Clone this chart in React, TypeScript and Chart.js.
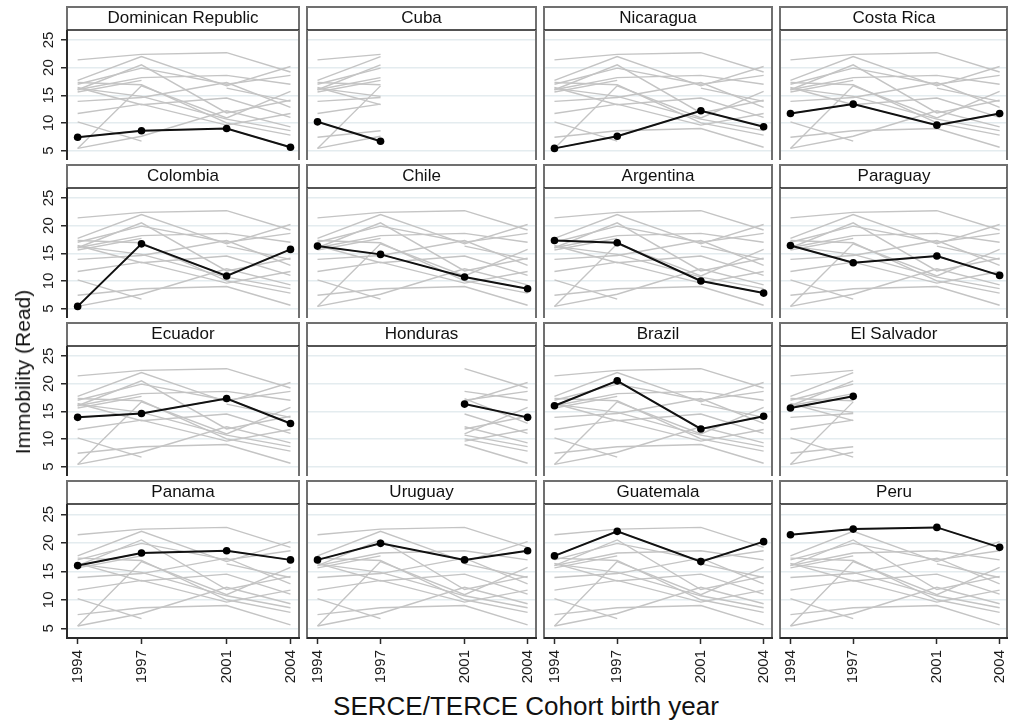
import React, { useEffect, useRef } from "react";
import { Chart, registerables } from "chart.js";

Chart.register(...registerables);

// ---------- data ----------
const YEARS = [1994, 1997, 2001, 2004];
const X_TICKS = [1994, 1997, 2001, 2004];
const Y_TICKS = [5, 10, 15, 20, 25];

const dominicanRepublic = [7.4, 8.6, 9.0, 5.6];
const cuba = [10.2, 6.7, null, null];
const nicaragua = [5.4, 7.6, 12.2, 9.3];
const costaRica = [11.7, 13.4, 9.6, 11.7];
const colombia = [5.4, 16.7, 10.9, 15.7];
const chile = [16.3, 14.8, 10.7, 8.6];
const argentina = [17.3, 16.9, 10.0, 7.8];
const paraguay = [16.4, 13.3, 14.5, 11.0];
const ecuador = [13.9, 14.6, 17.3, 12.8];
const honduras = [null, null, 16.3, 13.9];
const brazil = [16.0, 20.5, 11.8, 14.1];
const elSalvador = [15.6, 17.7, null, null];
const panama = [16.0, 18.2, 18.6, 17.0];
const uruguay = [17.0, 19.9, 17.0, 18.6];
const guatemala = [17.7, 22.0, 16.7, 20.2];
const peru = [21.4, 22.4, 22.7, 19.2];

const COUNTRY_NAMES = [
  "Dominican Republic", "Cuba", "Nicaragua", "Costa Rica",
  "Colombia", "Chile", "Argentina", "Paraguay",
  "Ecuador", "Honduras", "Brazil", "El Salvador",
  "Panama", "Uruguay", "Guatemala", "Peru",
];
const COUNTRY_VALUES: (number | null)[][] = [
  dominicanRepublic, cuba, nicaragua, costaRica,
  colombia, chile, argentina, paraguay,
  ecuador, honduras, brazil, elSalvador,
  panama, uruguay, guatemala, peru,
];

const Y_TITLE = "Immobility (Read)";
const X_TITLE = "SERCE/TERCE Cohort birth year";

// ---------- layout / style ----------
const FONT = "'Liberation Sans', Arial, Helvetica, sans-serif";
const COL_LEFT = [67, 303, 540, 776];
const COL_RIGHT = [303, 540, 776, 1012];
const ROW_TOP = [6, 164, 322, 480];
const STRIP_H = 24;
const PLOT_H = 134;
const Y_AXIS_W = 67;
const X_AXIS_H = 50;
const X_MIN = 1993.5;
const X_MAX = 2004.4;
const Y_MIN = 3.3;
const Y_MAX = 26.8;
const GRAY = "#c4c4c4";
const GRID = "#e4ecef";
const FRAME = "#707070";
const AXIS = "#2a2a2a";

function Panel({ index }: { index: number }) {
  const ref = useRef<HTMLCanvasElement>(null);
  const row = Math.floor(index / 4);
  const col = index % 4;
  const isLeft = col === 0;
  const isBottom = row === 3;
  const isRight = col === 3;
  const left = isLeft ? 0 : COL_LEFT[col];
  const width = COL_RIGHT[col] - left;
  const top = ROW_TOP[row];
  const height = STRIP_H + PLOT_H + (isBottom ? X_AXIS_H : 0);

  useEffect(() => {
    const focal = COUNTRY_VALUES[index];
    const gray = COUNTRY_VALUES.map((vals, c) => ({
      label: COUNTRY_NAMES[c],
      data: YEARS.map((yr, k) => ({ x: yr, y: vals[k] as number })).filter(
        (_p, k) => vals[k] != null && focal[k] != null
      ),
      borderColor: GRAY,
      borderWidth: 1.4,
      pointRadius: 0,
      tension: 0,
    }));
    const black = {
      label: COUNTRY_NAMES[index],
      data: YEARS.map((yr, k) => ({ x: yr, y: focal[k] as number })).filter(
        (_p, k) => focal[k] != null
      ),
      borderColor: "#111111",
      borderWidth: 2,
      pointRadius: 3.8,
      pointBackgroundColor: "#000000",
      pointBorderColor: "#000000",
      pointBorderWidth: 0,
      tension: 0,
    };

    const frame = {
      id: "frame",
      afterDraw(chart: any) {
        const { ctx, chartArea: a } = chart;
        const line = (x1: number, y1: number, x2: number, y2: number, color: string, lw: number) => {
          ctx.beginPath();
          ctx.strokeStyle = color;
          ctx.lineWidth = lw;
          ctx.moveTo(x1, y1);
          ctx.lineTo(x2, y2);
          ctx.stroke();
        };
        ctx.save();
        const rx = isRight ? a.right - 1 : a.right;
        // strip box
        line(a.left, 1, rx, 1, FRAME, 2);
        line(a.left, 0, a.left, a.top, FRAME, 2);
        line(rx, 0, rx, a.top, FRAME, 2);
        line(a.left, a.top, rx, a.top, "#1a1a1a", 1.6);
        // plot box sides
        line(a.left, a.top, a.left, a.bottom + (isBottom ? 1 : 0), isLeft ? AXIS : FRAME, 2);
        line(rx, a.top, rx, a.bottom, FRAME, 2);
        if (isBottom) line(a.left - (isLeft ? 1 : 0), a.bottom, rx + 1, a.bottom, AXIS, 2);

        ctx.fillStyle = "#1a1a1a";
        ctx.font = `15px ${FONT}`;
        if (isLeft) {
          const ys = chart.scales.y;
          Y_TICKS.forEach((v) => {
            const py = ys.getPixelForValue(v);
            ctx.save();
            ctx.translate(49, py);
            ctx.rotate(-Math.PI / 2);
            ctx.textAlign = "center";
            ctx.textBaseline = "middle";
            ctx.fillText(String(v), 0, 0);
            ctx.restore();
          });
        }
        if (isBottom) {
          const xs = chart.scales.x;
          X_TICKS.forEach((v) => {
            const px = xs.getPixelForValue(v);
            ctx.save();
            ctx.translate(px, a.bottom + 12);
            ctx.rotate(-Math.PI / 2);
            ctx.textAlign = "right";
            ctx.textBaseline = "middle";
            ctx.fillText(String(v), 0, 0);
            ctx.restore();
          });
        }
        ctx.restore();
      },
    };

    const chart = new Chart(ref.current as HTMLCanvasElement, {
      type: "line",
      data: { datasets: [black, ...gray] as any },
      options: {
        animation: false,
        responsive: false,
        events: [],
        layout: { padding: 0 },
        plugins: {
          legend: { display: false },
          tooltip: { enabled: false },
          title: {
            display: true,
            text: COUNTRY_NAMES[index],
            fullSize: false,
            color: "#111111",
            font: { family: FONT, size: 17, weight: "normal" as any, lineHeight: 1.2 },
            padding: { top: 2.2, bottom: 1.4 },
          },
        },
        scales: {
          x: {
            type: "linear",
            min: X_MIN,
            max: X_MAX,
            display: isBottom,
            afterBuildTicks: (s: any) => {
              s.ticks = X_TICKS.map((v) => ({ value: v }));
            },
            ticks: { display: false },
            grid: {
              display: true,
              drawOnChartArea: false,
              drawTicks: true,
              tickLength: 6,
              tickColor: AXIS,
              tickWidth: 1.5,
            },
            border: { display: false },
            afterFit: (s: any) => {
              s.height = isBottom ? X_AXIS_H : 0;
            },
          },
          y: {
            type: "linear",
            min: Y_MIN,
            max: Y_MAX,
            afterBuildTicks: (s: any) => {
              s.ticks = Y_TICKS.map((v) => ({ value: v }));
            },
            ticks: { display: false },
            grid: {
              color: GRID,
              lineWidth: 1.5,
              drawTicks: isLeft,
              tickLength: 6,
              tickColor: AXIS,
              tickWidth: 1.5,
            },
            border: { display: false },
            afterFit: (s: any) => {
              s.width = isLeft ? Y_AXIS_W : 0;
            },
          },
        },
      } as any,
      plugins: [frame],
    });
    return () => chart.destroy();
  }, [index]);

  return (
    <canvas
      ref={ref}
      width={width}
      height={height}
      style={{ position: "absolute", left, top, width, height }}
    />
  );
}

export default function App() {
  return (
    <div
      style={{
        position: "absolute",
        left: 0,
        top: 0,
        width: 1013,
        height: 724,
        background: "#ffffff",
        overflow: "hidden",
        fontFamily: FONT,
      }}
    >
      {COUNTRY_NAMES.map((_n, i) => (
        <Panel key={i} index={i} />
      ))}
      <div
        style={{
          position: "absolute",
          left: 23,
          top: 372,
          transform: "translate(-50%, -50%) rotate(-90deg)",
          whiteSpace: "nowrap",
          fontSize: 21,
          color: "#111",
        }}
      >
        {Y_TITLE}
      </div>
      <div
        style={{
          position: "absolute",
          left: 526,
          top: 706,
          transform: "translate(-50%, -50%)",
          whiteSpace: "nowrap",
          fontSize: 26,
          color: "#111",
        }}
      >
        {X_TITLE}
      </div>
    </div>
  );
}
